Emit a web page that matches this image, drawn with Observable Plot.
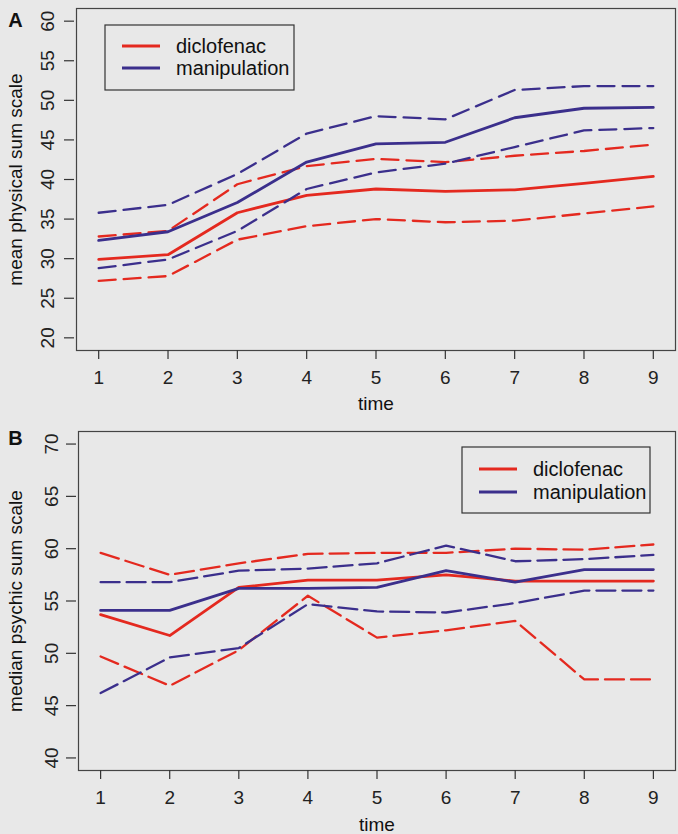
<!DOCTYPE html>
<html>
<head>
<meta charset="utf-8">
<script src="https://cdn.jsdelivr.net/npm/d3@7"></script>
<script src="https://cdn.jsdelivr.net/npm/@observablehq/plot@0.6"></script>
<style>
  html, body { margin: 0; padding: 0; background: #e8e8e8; }
  svg { display: block; }
</style>
</head>
<body>
<div id="chart"></div>
<script>
// ---- data ----
const time = [1, 2, 3, 4, 5, 6, 7, 8, 9];
const groups = ["diclofenac", "manipulation"];

// Panel A: mean physical sum scale (mean with lower/upper bands)
const physDiclofenacMean  = [29.9, 30.5, 35.8, 38.0, 38.8, 38.5, 38.7, 39.5, 40.4];
const physDiclofenacUpper = [32.8, 33.5, 39.4, 41.7, 42.6, 42.2, 43.0, 43.6, 44.4];
const physDiclofenacLower = [27.2, 27.8, 32.4, 34.1, 35.0, 34.6, 34.8, 35.7, 36.6];
const physManipMean  = [32.3, 33.4, 37.1, 42.2, 44.5, 44.7, 47.8, 49.0, 49.1];
const physManipUpper = [35.8, 36.8, 40.7, 45.8, 48.0, 47.6, 51.3, 51.8, 51.8];
const physManipLower = [28.8, 29.9, 33.5, 38.8, 40.9, 42.0, 44.1, 46.2, 46.5];

// Panel B: median psychic sum scale (median with lower/upper bands)
const psyDiclofenacMedian = [53.7, 51.7, 56.3, 57.0, 57.0, 57.5, 56.9, 56.9, 56.9];
const psyDiclofenacUpper  = [59.6, 57.5, 58.6, 59.5, 59.6, 59.6, 60.0, 59.9, 60.4];
const psyDiclofenacLower  = [49.7, 46.9, 50.3, 55.5, 51.5, 52.2, 53.1, 47.5, 47.5];
const psyManipMedian = [54.1, 54.1, 56.2, 56.2, 56.3, 57.9, 56.8, 58.0, 58.0];
const psyManipUpper  = [56.8, 56.8, 57.9, 58.1, 58.6, 60.3, 58.8, 59.0, 59.4];
const psyManipLower  = [46.2, 49.6, 50.5, 54.7, 54.0, 53.9, 54.8, 56.0, 56.0];

const physTicks = [20, 25, 30, 35, 40, 45, 50, 55, 60];
const psyTicks  = [40, 45, 50, 55, 60, 65, 70];

// ---- styles ----
const RED = "#e4291f";
const BLUE = "#3b2f8c";
const FONT = "'Liberation Sans', Arial, Helvetica, sans-serif";
const FS = 19;
const LFS = 20;
const W = 678;

function pad(ticks) {
  const lo = d3.min(ticks), hi = d3.max(ticks), r = (hi - lo) * 0.04;
  return [lo - r, hi + r];
}

function seriesMarks(sets, dash) {
  return sets.map(s => Plot.line(time, {
    x: d => d, y: (d, i) => s.values[i],
    stroke: s.color,
    strokeWidth: s.solid ? 2.8 : 2.3,
    strokeDasharray: s.solid ? null : dash,
    strokeLinejoin: "round"
  }));
}

function panel(o) {
  const svg = Plot.plot({
    width: W, height: o.height,
    marginTop: o.mt, marginBottom: o.mb, marginLeft: o.ml, marginRight: o.mr,
    style: { background: "#e8e8e8", fontFamily: FONT, fontSize: FS + "px", color: "#222", overflow: "visible" },
    x: { domain: pad(time), axis: null },
    y: { domain: pad(o.yTicks), axis: null },
    marks: [
      Plot.frame({ stroke: "#444", strokeWidth: 1.2 }),
      ...seriesMarks(o.sets, o.dash),
      Plot.axisX({ ticks: time, tickSize: 9, tickPadding: 11, fontSize: FS, label: null, stroke: "#333", strokeWidth: 1.2, tickFormat: d => String(d) }),
      Plot.axisY({ ticks: o.yTicks, tickSize: 10, dx: -2, tickFormat: () => "", label: null, stroke: "#333", strokeWidth: 1.2 }),
      Plot.text(o.yTicks, { y: d => d, frameAnchor: "left", dx: o.ylabDx, rotate: -90, lineAnchor: "bottom", textAnchor: "middle", text: d => String(d), fontSize: FS, fill: "#222" }),
      Plot.text(["time"], { frameAnchor: "bottom", dy: o.xtitleDy, lineAnchor: "bottom", text: d => d, fontSize: FS, fill: "#111" }),
      Plot.text([o.ytitle], { frameAnchor: "left", dx: o.ytitleDx, rotate: -90, lineAnchor: "bottom", textAnchor: "middle", text: d => d, fontSize: FS, fill: "#111" }),
      Plot.text([o.letter], { frameAnchor: "top-left", dx: o.letterDx, dy: o.letterDy, lineAnchor: "middle", textAnchor: "middle", text: d => d, fontSize: 20, fontWeight: "bold", fill: "#111" })
    ]
  });
  const g = d3.select(svg).append("g");
  const L = o.legend;
  g.append("rect").attr("x", L.x).attr("y", L.y).attr("width", L.w).attr("height", L.h)
    .attr("fill", "none").attr("stroke", "#333").attr("stroke-width", 1.2);
  const colors = [RED, BLUE];
  groups.forEach((name, i) => {
    const yy = L.y + L.first + i * L.step;
    g.append("line").attr("x1", L.x + 17).attr("x2", L.x + 55).attr("y1", yy).attr("y2", yy)
      .attr("stroke", colors[i]).attr("stroke-width", 2.8);
    g.append("text").attr("x", L.x + 71).attr("y", yy).attr("dy", "0.35em")
      .attr("text-anchor", "start")
      .attr("font-family", FONT).attr("font-size", LFS).attr("fill", "#111").text(name);
  });
  return svg;
}

const chart = document.getElementById("chart");

chart.appendChild(panel({
  height: 418, mt: 8, mb: 68, ml: 76, mr: 3,
  yTicks: physTicks, dash: "17,8",
  ytitle: "mean physical sum scale", letter: "A",
  ylabDx: -23, ytitleDx: -55, xtitleDy: 59, letterDx: -61, letterDy: 12,
  sets: [
    { values: physDiclofenacUpper, color: RED },
    { values: physDiclofenacLower, color: RED },
    { values: physDiclofenacMean, color: RED, solid: true },
    { values: physManipUpper, color: BLUE },
    { values: physManipLower, color: BLUE },
    { values: physManipMean, color: BLUE, solid: true }
  ],
  legend: { x: 105, y: 25, w: 189, h: 65, first: 21, step: 22 }
}));

chart.appendChild(panel({
  height: 416, mt: 13, mb: 64, ml: 78, mr: 3,
  yTicks: psyTicks, dash: "19,7",
  ytitle: "median psychic sum scale", letter: "B",
  ylabDx: -21, ytitleDx: -57, xtitleDy: 60, letterDx: -63, letterDy: 7,
  sets: [
    { values: psyDiclofenacUpper, color: RED },
    { values: psyDiclofenacLower, color: RED },
    { values: psyDiclofenacMedian, color: RED, solid: true },
    { values: psyManipUpper, color: BLUE },
    { values: psyManipLower, color: BLUE },
    { values: psyManipMedian, color: BLUE, solid: true }
  ],
  legend: { x: 462, y: 29, w: 188, h: 66, first: 22, step: 23 }
}));
</script>
</body>
</html>
